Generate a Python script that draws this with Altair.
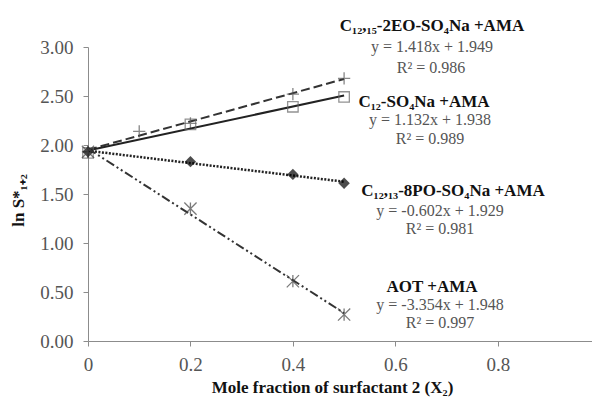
import altair as alt
import pandas as pd

# ---- data ----
series = ["2EO", "C12", "8PO", "AOT"]
x_2eo = [0, 0.1, 0.2, 0.4, 0.5]
y_2eo = [1.93, 2.14, 2.22, 2.52, 2.68]
x_c12 = [0, 0.2, 0.4, 0.5]
y_c12 = [1.92, 2.21, 2.39, 2.49]
x_8po = [0, 0.2, 0.4, 0.5]
y_8po = [1.93, 1.83, 1.70, 1.61]
x_aot = [0, 0.2, 0.4, 0.5]
y_aot = [1.93, 1.35, 0.61, 0.27]

x_ticks = [0, 0.2, 0.4, 0.6, 0.8]
y_ticks = [0, 0.5, 1.0, 1.5, 2.0, 2.5, 3.0]

labels = [
    ["C\u2081\u2082,\u2081\u2085-2EO-SO\u2084Na +AMA", "y = 1.418x + 1.949", "R\u00b2 = 0.986"],
    ["C\u2081\u2082-SO\u2084Na +AMA", "y = 1.132x + 1.938", "R\u00b2 = 0.989"],
    ["C\u2081\u2082,\u2081\u2083-8PO-SO\u2084Na +AMA", "y = -0.602x + 1.929", "R\u00b2 = 0.981"],
    ["AOT +AMA", "y = -3.354x + 1.948", "R\u00b2 = 0.997"],
]

xs = {"2EO": x_2eo, "C12": x_c12, "8PO": x_8po, "AOT": x_aot}
ys = {"2EO": y_2eo, "C12": y_c12, "8PO": y_8po, "AOT": y_aot}

FONT = "Liberation Serif"
W, H = 504, 294
xscale = alt.Scale(domain=[0, 0.984], nice=False, zero=False)
yscale = alt.Scale(domain=[0, 3], nice=False)

xaxis = alt.Axis(values=x_ticks, labelExpr="datum.value == 0 ? '0' : format(datum.value, '.1f')",
                 grid=False, domainColor="#8c8c8c", tickColor="#8c8c8c", tickSize=5,
                 labelFont=FONT, labelFontSize=19, labelColor="#555555", labelPadding=9,
                 labelFlush=False,
                 title="Mole fraction of surfactant 2 (X\u2082)", titleFont=FONT, titleFontSize=17,
                 titleFontWeight="bold", titleColor="#111111", titleX=244, titleY=46,
                 titleBaseline="middle", titleAlign="center")
yaxis = alt.Axis(values=y_ticks, format=".2f", grid=False, domainColor="#8c8c8c",
                 tickColor="#8c8c8c", tickSize=5, labelFont=FONT, labelFontSize=19,
                 labelColor="#555555", labelPadding=10, labelFlush=False,
                 title="ln S*\u2081\u208a\u2082", titleFont=FONT, titleFontSize=17,
                 titleFontWeight="bold", titleColor="#111111", titleX=-70, titleY=153,
                 titleBaseline="middle", titleAngle=-90, titleAlign="center")

line_style = {
    "2EO": dict(strokeDash=[9, 4], strokeWidth=2, color="#333333"),
    "C12": dict(strokeWidth=2, color="#222222"),
    "8PO": dict(strokeDash=[2, 1.5], strokeWidth=2.5, color="#222222"),
    "AOT": dict(strokeDash=[9, 3, 2, 3, 2, 3], strokeWidth=2, color="#333333"),
}
marker_style = {
    "2EO": dict(shape="M-1,0H1M0,-1V1", filled=False, size=150, stroke="#555555", strokeWidth=1.3),
    "C12": dict(shape="square", filled=False, size=110, stroke="#666666", strokeWidth=1.3),
    "8PO": dict(shape="diamond", filled=True, size=130, color="#000000"),
    "AOT": dict(shape="M-1,-1L1,1M-1,1L1,-1M0,-1V1", filled=False, size=150, stroke="#444444", strokeWidth=1.3),
}

layers = []
for i, s in enumerate(series):
    df = pd.DataFrame({"x": xs[s], "y": ys[s]})
    base = alt.Chart(df)
    enc = dict(x=alt.X("x:Q", scale=xscale, axis=xaxis),
               y=alt.Y("y:Q", scale=yscale, axis=yaxis))
    line = base.transform_regression("x", "y", method="linear", extent=[0, 0.5]).mark_line(
        **line_style[s]).encode(**enc)
    pts = base.mark_point(**marker_style[s]).encode(**enc)
    layers += [line, pts]

# annotation text (pixel positions in plot coordinates)
ann_pos = [
    [(432, 26), (432, 47), (431, 68)],
    [(424, 102), (430, 120), (430, 139)],
    [(453, 191), (440, 211), (440, 229)],
    [(432, 287), (440, 305), (440, 323)],
]
for lab, pos in zip(labels, ann_pos):
    for j, (txt, (px, py)) in enumerate(zip(lab, pos)):
        t = alt.Chart(pd.DataFrame({"t": [txt]})).mark_text(
            font=FONT, fontSize=17 if j == 0 else 16, fontWeight="bold" if j == 0 else "normal",
            color="#111111" if j == 0 else "#555555", align="center", baseline="middle"
        ).encode(text="t:N", x=alt.value(px - 88), y=alt.value(py - 47))
        layers.append(t)

chart = alt.layer(*layers).properties(
    width=W, height=H,
    autosize=alt.AutoSizeParams(type="none"),
    padding={"left": 88, "top": 47, "right": 0, "bottom": 60},
    background="white",
).configure_view(stroke=None)

chart.save("out.html", embed_options={"renderer": "svg", "actions": False})
